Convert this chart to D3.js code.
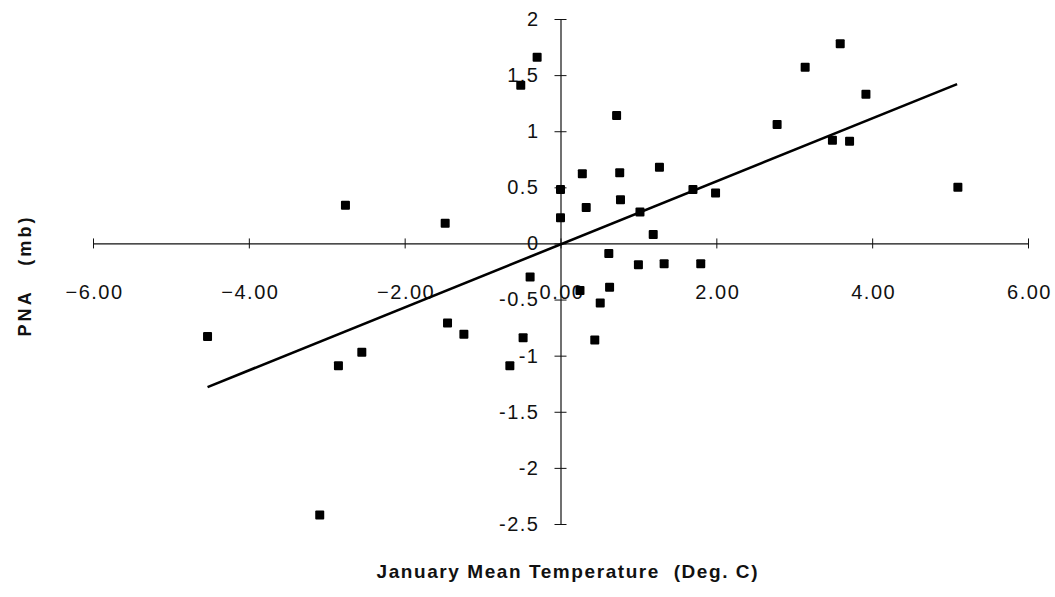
<!DOCTYPE html>
<html>
<head>
<meta charset="utf-8">
<script src="https://cdn.jsdelivr.net/npm/d3@7"></script>
<style>
  body { margin: 0; background: #fff; }
  svg { display: block; }
  .tick-label { font-family: "Liberation Sans", Arial, sans-serif; font-size: 20px; letter-spacing: 1.5px; fill: #111; }
  .axis-title { font-family: "Liberation Sans", Arial, sans-serif; font-weight: bold; font-size: 19px; fill: #111; white-space: pre; }
</style>
</head>
<body>
<svg id="chart" width="1055" height="597"></svg>
<script>
// January mean temperature (deg C) vs PNA index (mb)
var tempValues = [-0.30, -0.51, -2.76, -1.48, -0.39,
  0.72, 0.28, 0.76, 1.27, 0.00, 0.33, 0.77, 1.02, 0.00, 1.70, 1.99, 1.19, 0.62, 1.00, 1.33, 1.80,
  2.78, 3.14, 3.59, 3.92, 3.49, 3.71, 5.10, 0.25, 0.63,
  -4.53, -2.85, -2.55, -1.45, -1.24, -0.48, -0.65, -3.09,
  0.51, 0.44];
var pnaValues = [1.66, 1.41, 0.34, 0.18, -0.30,
  1.14, 0.62, 0.63, 0.68, 0.48, 0.32, 0.39, 0.28, 0.23, 0.48, 0.45, 0.08, -0.09, -0.19, -0.18, -0.18,
  1.06, 1.57, 1.78, 1.33, 0.92, 0.91, 0.50, -0.42, -0.39,
  -0.83, -1.09, -0.97, -0.71, -0.81, -0.84, -1.09, -2.42,
  -0.53, -0.86];

// end points of the fitted line
var fitX = [-4.53, 5.09];
var fitY = [-1.28, 1.42];

var xTicks = [-6, -4, -2, 0, 2, 4, 6];
var yTicks = [2, 1.5, 1, 0.5, 0, -0.5, -1, -1.5, -2, -2.5];

var svg = d3.select("#chart");

var x = d3.scaleLinear().domain([-6, 6]).range([93, 1028]),
    y = d3.scaleLinear().domain([-2.5, 2]).range([524, 19]);

/* x axis through y = 0 */
var xAxis = svg.append("g")
    .attr("transform", `translate(0, ${y(0)})`)
    .call(d3.axisBottom(x).tickValues(xTicks).tickFormat(d3.format(".2f")).tickSize(5).tickSizeOuter(0).tickPadding(36));
xAxis.select(".domain").style("stroke", "#111").style("stroke-width", 1.3);
xAxis.selectAll(".tick line").attr("y1", -5).style("stroke", "#111");
xAxis.selectAll(".tick text").attr("class", "tick-label").attr("font-size", null).attr("font-family", null).attr("dx", 1);

/* y axis through x = 0 */
var yAxis = svg.append("g")
    .attr("transform", `translate(${x(0)}, 0)`)
    .call(d3.axisLeft(y).tickValues(yTicks).tickFormat(function(d) { return String(d); }).tickSize(6).tickSizeOuter(0).tickPadding(15));
yAxis.select(".domain").style("stroke", "#111").style("stroke-width", 1.2);
yAxis.selectAll(".tick line").attr("x1", 6).style("stroke", "#111");
yAxis.selectAll(".tick text").attr("class", "tick-label").attr("font-size", null).attr("font-family", null);

/* trend line */
svg.append("line")
    .attr("x1", x(fitX[0])).attr("y1", y(fitY[0]))
    .attr("x2", x(fitX[1])).attr("y2", y(fitY[1]))
    .style("stroke", "#000")
    .style("stroke-width", 2.6);

/* data points */
var sz = 9;
for (let i = 0; i < tempValues.length; i++) {
    svg.append("rect")
        .attr("x", x(tempValues[i]) - sz / 2)
        .attr("y", y(pnaValues[i]) - sz / 2)
        .attr("width", sz)
        .attr("height", sz)
        .attr("rx", 1)
        .style("fill", "#000");
}

/* axis titles */
svg.append("text")
    .attr("class", "axis-title")
    .attr("x", 567)
    .attr("y", 578)
    .attr("text-anchor", "middle")
    .attr("textLength", 381)
    .attr("lengthAdjust", "spacing")
    .text("January Mean Temperature  (Deg. C)");

svg.append("text")
    .attr("class", "axis-title")
    .style("font-size", "18px")
    .attr("transform", "translate(31, 277) rotate(-90)")
    .attr("text-anchor", "middle")
    .attr("textLength", 119)
    .attr("lengthAdjust", "spacing")
    .text("PNA   (mb)");
</script>
</body>
</html>
